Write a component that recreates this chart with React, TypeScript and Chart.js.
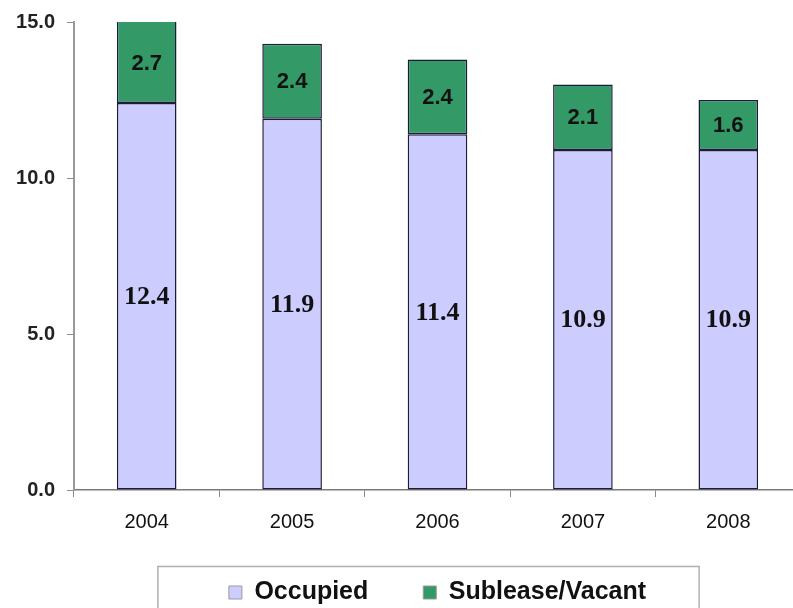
import React, { useEffect, useRef } from "react";
import { Chart, registerables } from "chart.js";

Chart.register(...registerables);

const categories = ["2004", "2005", "2006", "2007", "2008"];
const occupied = [12.4, 11.9, 11.4, 10.9, 10.9];
const subleaseVacant = [2.7, 2.4, 2.4, 2.1, 1.6];
const seriesNames = ["Occupied", "Sublease/Vacant"];
const yTicks = [0, 5, 10, 15];

const barLabels = {
  id: "barLabels",
  afterDatasetsDraw(chart: any) {
    const ctx = chart.ctx;
    ctx.save();
    ctx.textAlign = "center";
    ctx.textBaseline = "middle";
    chart.data.datasets.forEach((ds: any, di: number) => {
      const meta = chart.getDatasetMeta(di);
      ctx.font = di === 0 ? "bold 26px 'Liberation Serif', 'Times New Roman', serif" : "bold 22px 'Liberation Sans', Arial, sans-serif";
      ctx.fillStyle = "#111111";
      meta.data.forEach((el: any, i: number) => {
        const top = Math.max(el.y, chart.chartArea.top);
        const cy = (top + el.base) / 2;
        ctx.fillText(Number(ds.data[i]).toFixed(1), el.x, cy + 1);
      });
    });
    ctx.restore();
  },
};

const legendBorder = {
  id: "legendBorder",
  afterDraw(chart: any) {
    const lg = chart.legend;
    if (!lg || !lg.legendHitBoxes || !lg.legendHitBoxes.length) return;
    const boxes = lg.legendHitBoxes;
    const left = boxes[0].left - 71;
    const right = boxes[boxes.length - 1].left + boxes[boxes.length - 1].width + 53;
    const cy = boxes[0].top + boxes[0].height / 2;
    const ctx = chart.ctx;
    ctx.save();
    ctx.strokeStyle = "#b0b0b0";
    ctx.lineWidth = 1.5;
    ctx.strokeRect(left, cy - 26, right - left, 60);
    ctx.restore();
  },
};

export default function App() {
  const ref = useRef<HTMLCanvasElement | null>(null);
  useEffect(() => {
    if (!ref.current) return;
    const chart = new Chart(ref.current, {
      type: "bar",
      data: {
        labels: categories,
        datasets: [
          {
            label: seriesNames[0],
            data: occupied,
            backgroundColor: "#CCCCFF",
            borderColor: "#1c1c3a",
            borderWidth: 1.5,
            borderSkipped: false,
            barPercentage: 0.41,
            categoryPercentage: 1,
          },
          {
            label: seriesNames[1],
            data: subleaseVacant,
            backgroundColor: "#339966",
            borderColor: "#1c1c3a",
            borderWidth: 1.5,
            borderSkipped: false,
            barPercentage: 0.41,
            categoryPercentage: 1,
          },
        ],
      },
      options: {
        responsive: false,
        animation: false,
        layout: { padding: { top: 21, right: 9, left: 0, bottom: 0 } },
        plugins: {
          tooltip: { enabled: false },
          legend: {
            position: "bottom",
            fullSize: false,
            title: {
              display: true,
              text: "",
              font: { size: 1 },
              padding: { top: -12.2, bottom: 0 },
            },
            labels: {
              boxWidth: 13,
              boxHeight: 13,
              padding: 55,
              color: "#111111",
              font: { family: "'Liberation Sans', Arial, sans-serif", size: 25, weight: "bold" },
              generateLabels: (ch: any) =>
                ch.data.datasets.map((ds: any, i: number) => ({
                  text: ds.label,
                  fillStyle: ds.backgroundColor,
                  strokeStyle: "#9a9a9a",
                  lineWidth: 1,
                  hidden: false,
                  datasetIndex: i,
                  fontColor: "#111111",
                })),
            },
          },
        },
        scales: {
          x: {
            stacked: true,
            offset: true,
            grid: {
              display: true,
              offset: true,
              drawOnChartArea: false,
              drawTicks: true,
              tickLength: 7,
              color: "#8a8a8a",
            },
            border: { display: true, color: "#7a7a7a", width: 1.5 },
            ticks: {
              color: "#111111",
              padding: 13,
              font: { family: "'Liberation Sans', Arial, sans-serif", size: 20 },
            },
            afterFit: (s: any) => {
              s.height = 46;
            },
          },
          y: {
            stacked: true,
            min: 0,
            max: 15,
            afterBuildTicks: (s: any) => {
              s.ticks = yTicks.map((v) => ({ value: v }));
            },
            grid: {
              display: true,
              drawOnChartArea: false,
              drawTicks: true,
              tickLength: 7,
              color: "#8a8a8a",
            },
            border: { display: true, color: "#9a9a9a", width: 2 },
            ticks: {
              color: "#222222",
              padding: 12,
              font: { family: "'Liberation Sans', Arial, sans-serif", size: 20, weight: "bold", lineHeight: 1 },
              callback: (v: any) => Number(v).toFixed(1),
            },
            afterFit: (s: any) => {
              s.width = 74;
            },
          },
        },
      },
      plugins: [barLabels, legendBorder],
    });
    return () => chart.destroy();
  }, []);
  return (
    <div style={{ position: "fixed", left: 0, top: 0, width: 793, height: 608, overflow: "hidden", background: "#fff" }}>
      <canvas ref={ref} width={810} height={615} style={{ width: 810, height: 615, display: "block" }} />
    </div>
  );
}
